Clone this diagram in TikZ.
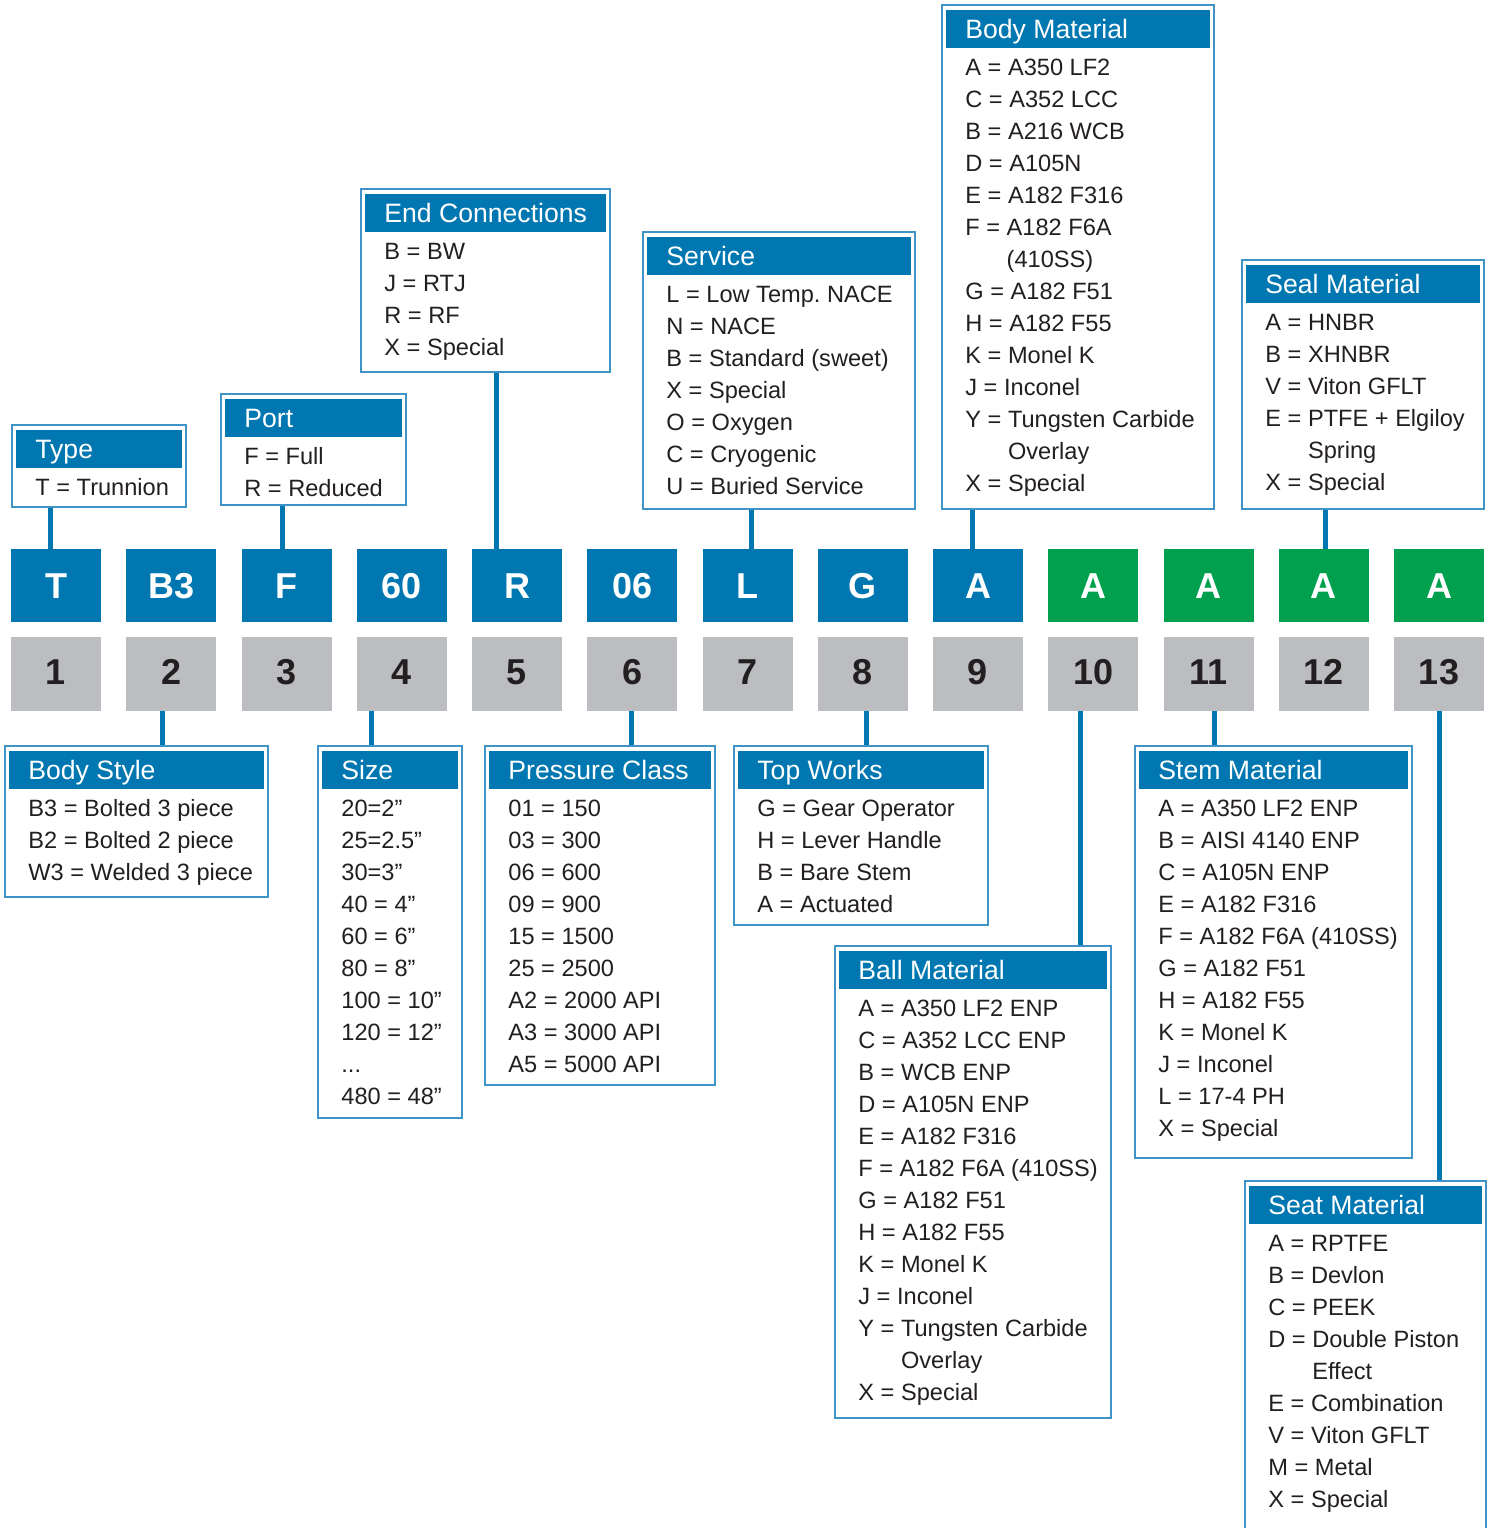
\documentclass[tikz,border=0pt]{standalone}
\usepackage{fontspec}
\setmainfont{Liberation Sans}
\frenchspacing
\usetikzlibrary{fit}
\definecolor{cblue}{HTML}{0077B0}
\definecolor{cborder}{HTML}{3F93C6}
\definecolor{cgreen}{HTML}{00A04E}
\definecolor{cgray}{HTML}{BCBDC0}
\definecolor{ctext}{HTML}{231F20}
\newcommand\mydots{...}
\tikzset{
  codebox/.style={fill=cblue, minimum width=45pt, minimum height=36.5pt, inner sep=0pt, text=white, text height=12.9pt, text depth=0pt, font=\fontsize{18}{18}\selectfont\bfseries},
  greenbox/.style={codebox, fill=cgreen},
  numbox/.style={fill=cgray, minimum width=45pt, minimum height=37pt, inner sep=0pt, text=ctext, text height=12.9pt, text depth=2.5pt, font=\fontsize{18}{18}\selectfont\bfseries},
  outerbox/.style={draw=cborder, line width=0.8pt, inner sep=0pt, fill=white},
  headbox/.style={fill=cblue, inner sep=0pt},
  headtext/.style={text=white, font=\fontsize{13.3}{14}\selectfont, inner sep=0pt, anchor=base west},
  item/.style={text=ctext, font=\fontsize{11.8}{14}\selectfont, inner sep=0pt, anchor=base west},
  link/.style={draw=cblue, line width=2.5pt},
}
\newcommand\legbox[6]{%
  \coordinate (#1-nw) at (#2,#3);
  \coordinate (#1-se) at (#4,#5);
  \node[outerbox, fit=(#1-nw)(#1-se)] (#1) {};
  \coordinate (#1-hnw) at ({#2+4},{#3+5});
  \coordinate (#1-hse) at ({#4-4},{#3+43});
  \node[headbox, fit=(#1-hnw)(#1-hse)] (#1-h) {};
  \node[headtext] (#1-t) at ({#2+23},{#3+33}) {#6};
}
\newcommand\legitems[4]{%
  \foreach \t [count=\i from 0] in {#4} {
    \node[item] (#1-\i) at ({#2+23},{#3+70+32*\i}) {\t};
  }
}
\begin{document}
\begin{tikzpicture}[x=0.5pt,y=-0.5pt]
\useasboundingbox (0,0) rectangle (1494,1528);

% code boxes and position numbers
\foreach \lab/\sty [count=\i] in {T/codebox,B3/codebox,F/codebox,60/codebox,R/codebox,06/codebox,L/codebox,G/codebox,A/codebox,A/greenbox,A/greenbox,A/greenbox,A/greenbox} {
  \node[\sty] (c\i) at ({56+115.25*(\i-1)},585.5) {\lab};
  \node[numbox] (n\i) at ({56+115.25*(\i-1)},674) {\i};
}

% x positions of connectors
\coordinate (x1) at (50,0);
\coordinate (x3) at (282,0);
\coordinate (x5) at (496,0);
\coordinate (x7) at (751,0);
\coordinate (x9) at (972,0);
\coordinate (x12) at (1325,0);
\coordinate (x2) at (162,0);
\coordinate (x4) at (371,0);
\coordinate (x6) at (631,0);
\coordinate (x8) at (866,0);
\coordinate (x10) at (1080,0);
\coordinate (x11) at (1214,0);
\coordinate (x13) at (1439,0);

% upper legends
\legbox{type}{12}{425}{186}{507}{Type}
\legitems{type}{12}{425}{T = Trunnion}
\legbox{port}{221}{394}{406}{505}{Port}
\legitems{port}{221}{394}{F = Full, R = Reduced}
\legbox{endc}{361}{189}{610}{372}{End Connections}
\legitems{endc}{361}{189}{B = BW, J = RTJ, R = RF, X = Special}
\legbox{serv}{643}{232}{915}{509}{Service}
\legitems{serv}{643}{232}{L = Low Temp. NACE, N = NACE, B = Standard (sweet), X = Special, O = Oxygen, C = Cryogenic, U = Buried Service}
\legbox{body}{942}{5}{1214}{509}{Body Material}
\legitems{body}{942}{5}{A = A350 LF2, C = A352 LCC, B = A216 WCB, D = A105N, E = A182 F316, F = A182 F6A, \phantom{F = }(410SS), G = A182 F51, H = A182 F55, K = Monel K, J = Inconel, Y = Tungsten Carbide, \phantom{Y = }Overlay, X = Special}
\legbox{seal}{1242}{260}{1484}{509}{Seal Material}
\legitems{seal}{1242}{260}{A = HNBR, B = XHNBR, V = Viton GFLT, E = PTFE + Elgiloy, \phantom{E = }Spring, X = Special}

% lower legends
\legbox{style}{5}{746}{268}{897}{Body Style}
\legitems{style}{5}{746}{B3 = Bolted 3 piece, B2 = Bolted 2 piece, W3 = Welded 3 piece}
\legbox{size}{318}{746}{462}{1118}{Size}
\legitems{size}{318}{746}{20=2”, 25=2.5”, 30=3”, 40 = 4”, 60 = 6”, 80 = 8”, 100 = 10”, 120 = 12”, \mydots, 480 = 48”}
\legbox{press}{485}{746}{715}{1085}{Pressure Class}
\legitems{press}{485}{746}{01 = 150, 03 = 300, 06 = 600, 09 = 900, 15 = 1500, 25 = 2500, A2 = 2000 API, A3 = 3000 API, A5 = 5000 API}
\legbox{top}{734}{746}{988}{925}{Top Works}
\legitems{top}{734}{746}{G = Gear Operator, H = Lever Handle, B = Bare Stem, A = Actuated}
\legbox{ball}{835}{946}{1111}{1418}{Ball Material}
\legitems{ball}{835}{946}{A = A350 LF2 ENP, C = A352 LCC ENP, B = WCB ENP, D = A105N ENP, E = A182 F316, F = A182 F6A (410SS), G = A182 F51, H = A182 F55, K = Monel K, J = Inconel, Y = Tungsten Carbide, \phantom{Y = }Overlay, X = Special}
\legbox{stem}{1135}{746}{1412}{1158}{Stem Material}
\legitems{stem}{1135}{746}{A = A350 LF2 ENP, B = AISI 4140 ENP, C = A105N ENP, E = A182 F316, F = A182 F6A (410SS), G = A182 F51, H = A182 F55, K = Monel K, J = Inconel, L = 17-4 PH, X = Special}
\legbox{seat}{1245}{1181}{1486}{1545}{Seat Material}
\legitems{seat}{1245}{1181}{A = RPTFE, B = Devlon, C = PEEK, D = Double Piston, \phantom{D = }Effect, E = Combination, V = Viton GFLT, M = Metal, X = Special}

% connectors
\draw[link] (type.south -| x1) -- (c1.north -| x1);
\draw[link] (port.south -| x3) -- (c3.north -| x3);
\draw[link] (endc.south -| x5) -- (c5.north -| x5);
\draw[link] (serv.south -| x7) -- (c7.north -| x7);
\draw[link] (body.south -| x9) -- (c9.north -| x9);
\draw[link] (seal.south -| x12) -- (c12.north -| x12);
\draw[link] (n2.south -| x2) -- (style.north -| x2);
\draw[link] (n4.south -| x4) -- (size.north -| x4);
\draw[link] (n6.south -| x6) -- (press.north -| x6);
\draw[link] (n8.south -| x8) -- (top.north -| x8);
\draw[link] (n10.south -| x10) -- (ball.north -| x10);
\draw[link] (n11.south -| x11) -- (stem.north -| x11);
\draw[link] (n13.south -| x13) -- (seat.north -| x13);
\end{tikzpicture}
\end{document}
